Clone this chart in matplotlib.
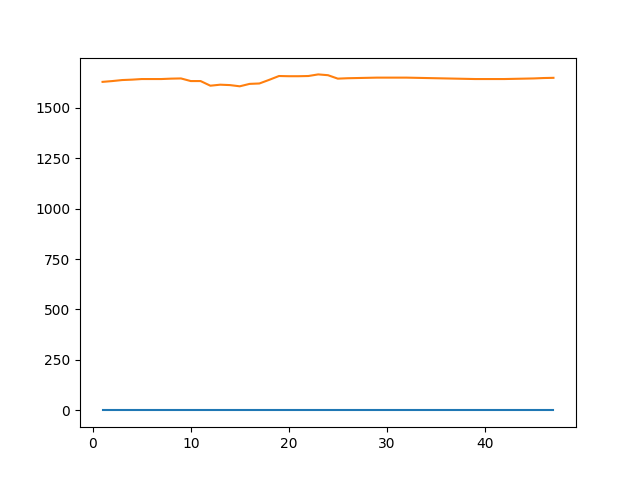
import matplotlib
matplotlib.use("Agg")
import matplotlib.pyplot as plt

x = list(range(1, 48))
series_a = [0] * 47
series_b = [1628, 1632, 1637, 1639, 1642, 1642, 1642, 1644, 1645, 1632,
            1632, 1609, 1614, 1612, 1606, 1618, 1620, 1638, 1657, 1656,
            1656, 1657, 1665, 1661, 1644, 1646, 1647, 1648, 1649, 1649,
            1649, 1649, 1648, 1647, 1646, 1645, 1644, 1643, 1642, 1642,
            1642, 1642, 1643, 1644, 1645, 1647, 1648]

fig, ax = plt.subplots(figsize=(6.4, 4.8), dpi=100)
ax.plot(x, series_a)
ax.plot(x, series_b)
fig.savefig("out.png")
